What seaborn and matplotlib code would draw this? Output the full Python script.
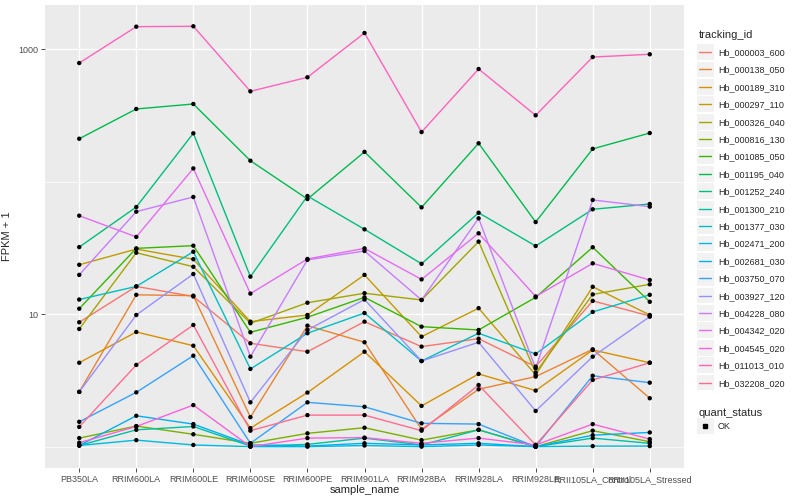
import pandas as pd
import seaborn as sns
import matplotlib.pyplot as plt
from matplotlib.lines import Line2D
from matplotlib.patches import Rectangle
from matplotlib.legend_handler import HandlerLine2D
from matplotlib.ticker import FixedLocator, NullFormatter

samples = ['PB350LA', 'RRIM600LA', 'RRIM600LE', 'RRIM600SE', 'RRIM600PE', 'RRIM901LA',
           'RRIM928BA', 'RRIM928LA', 'RRIM928LE', 'RRII105LA_Control', 'RRII105LA_Stressed']

genes = ['Hb_000003_600', 'Hb_000138_050', 'Hb_000189_310', 'Hb_000297_110', 'Hb_000326_040',
         'Hb_000816_130', 'Hb_001085_050', 'Hb_001195_040', 'Hb_001252_240', 'Hb_001300_210',
         'Hb_001377_030', 'Hb_002471_200', 'Hb_002681_030', 'Hb_003750_070', 'Hb_003927_120',
         'Hb_004228_080', 'Hb_004342_020', 'Hb_004545_020', 'Hb_011013_010', 'Hb_032208_020']

# FPKM per sample
hb_000003_600 = [7.69, 15.2, 12.6, 5.03, 4.21, 7.78, 4.69, 5.53, 3.02, 11.6, 8.69]
hb_000138_050 = [1.59, 13.0, 12.8, 0.67, 7.19, 5.14, 0.35, 1.71, 2.38, 4.43, 1.32]
hb_000189_310 = [3.30, 6.34, 4.78, 0.38, 1.56, 4.21, 1.03, 2.54, 1.65, 4.37, 3.30]
hb_000297_110 = [22.6, 30.0, 25.0, 7.78, 8.86, 18.8, 5.76, 10.1, 2.48, 15.1, 8.86]
hb_000326_040 = [6.73, 28.1, 21.8, 7.54, 11.2, 13.4, 11.8, 34.3, 2.62, 13.1, 15.8]
hb_000816_130 = [0.16, 0.43, 0.24, 0.06, 0.26, 0.39, 0.12, 0.34, 0.0, 0.32, 0.09]
hb_001085_050 = [10.0, 30.4, 31.9, 6.30, 8.48, 12.4, 7.05, 6.60, 12.4, 31.0, 11.4]
hb_001195_040 = [210, 353, 385, 143, 73, 167, 63, 194, 48.6, 176, 232]
hb_001252_240 = [31.1, 63.4, 231, 18.2, 77, 42.7, 23.0, 57.3, 31.7, 60.9, 66.9]
hb_001300_210 = [0.02, 0.34, 0.42, 0.01, 0.04, 0.16, 0.03, 0.34, 0.0, 0.16, 0.06]
hb_001377_030 = [11.9, 15.2, 28.6, 2.86, 6.18, 9.2, 3.43, 6.18, 4.01, 9.4, 13.0]
hb_002471_200 = [0.02, 0.12, 0.03, 0.0, 0.0, 0.02, 0.0, 0.03, 0.0, 0.01, 0.01]
hb_002681_030 = [0.02, 0.71, 0.48, 0.03, 0.01, 0.06, 0.03, 0.06, 0.0, 0.22, 0.28]
hb_003750_070 = [0.54, 1.57, 3.86, 0.06, 1.16, 1.00, 0.50, 0.48, 0.0, 2.43, 2.04]
hb_003927_120 = [1.59, 8.86, 19.1, 1.16, 6.60, 11.9, 3.43, 5.14, 0.86, 3.78, 8.58]
hb_004228_080 = [18.8, 58.4, 75.7, 3.78, 24.7, 29.0, 11.8, 51.9, 2.91, 71.8, 63.8]
hb_004342_020 = [54.4, 37.3, 125, 13.3, 25.1, 30.4, 17.3, 39.8, 12.6, 23.2, 17.1]
hb_004545_020 = [0.07, 0.42, 1.06, 0.0, 0.16, 0.17, 0.06, 0.16, 0.03, 0.48, 0.14]
hb_011013_010 = [786, 1479, 1489, 480, 613, 1324, 236, 708, 316, 872, 915]
hb_032208_020 = [0.41, 3.14, 7.29, 0.32, 0.73, 0.73, 0.32, 1.92, 0.03, 2.19, 3.30]

series = [hb_000003_600, hb_000138_050, hb_000189_310, hb_000297_110, hb_000326_040,
          hb_000816_130, hb_001085_050, hb_001195_040, hb_001252_240, hb_001300_210,
          hb_001377_030, hb_002471_200, hb_002681_030, hb_003750_070, hb_003927_120,
          hb_004228_080, hb_004342_020, hb_004545_020, hb_011013_010, hb_032208_020]

# ggplot2 default hue palette for 20 levels
colors = ['#F8766D', '#EA8331', '#D89000', '#C09B00', '#A3A500', '#7CAE00', '#39B600',
          '#00BB4E', '#00BF7D', '#00C1A3', '#00BFC4', '#00BAE0', '#00B0F6', '#35A2FF',
          '#9590FF', '#C77CFF', '#E76BF3', '#FA62DB', '#FF62BC', '#FF6C91']


class KeyHandler(HandlerLine2D):
    """Legend key with a grey box behind it, like ggplot."""
    def create_artists(self, legend, orig_handle, xdescent, ydescent, width, height,
                       fontsize, trans):
        arts = super().create_artists(legend, orig_handle, xdescent, ydescent, width,
                                      height, fontsize, trans)
        pad_x, pad_y = 1.5, 3.4
        bg = Rectangle((-xdescent - pad_x, -ydescent - pad_y), width + 2 * pad_x,
                       height + 2 * pad_y, facecolor='#F2F2F2', edgecolor='none',
                       transform=trans)
        return [bg] + list(arts)


rows = []
for g, vals in zip(genes, series):
    for s, v in zip(samples, vals):
        rows.append({'tracking_id': g, 'sample_name': s, 'fpkm1': v + 1})
df = pd.DataFrame(rows)

sns.set_theme(style='darkgrid')
plt.rcParams['font.family'] = ['Liberation Sans', 'DejaVu Sans']

fig = plt.figure(figsize=(8, 5), dpi=100)
ax = fig.add_axes([45 / 800, 32 / 500, 639 / 800, 463 / 500])
ax.set_facecolor('#EBEBEB')

sns.lineplot(data=df, x='sample_name', y='fpkm1', hue='tracking_id', hue_order=genes,
             palette=colors, linewidth=1, errorbar=None, sort=False, ax=ax)
sns.scatterplot(data=df, x='sample_name', y='fpkm1', color='black', s=10,
                edgecolor='none', legend=False, zorder=3, ax=ax)

ax.set_yscale('log')
ax.set_ylim(0.69, 2157)
ax.set_xlim(-0.6, len(samples) - 0.4)
ax.yaxis.set_major_locator(FixedLocator([10, 1000]))
ax.set_yticklabels(['10', '1000'])
ax.yaxis.set_minor_locator(FixedLocator([1, 100]))
ax.yaxis.set_minor_formatter(NullFormatter())

ax.grid(which='major', color='white', linewidth=1.0)
ax.grid(which='minor', axis='y', color='white', linewidth=0.5)
for sp in ax.spines.values():
    sp.set_visible(False)
ax.tick_params(axis='both', which='major', length=3, width=0.6, color='#333333',
               labelsize=6.5, labelcolor='#4D4D4D', pad=2, bottom=True, left=True)
ax.tick_params(axis='y', which='minor', length=0)

ax.set_xlabel('sample_name', fontsize=8, labelpad=1)
ax.set_ylabel('FPKM + 1', fontsize=8, labelpad=4)

handles, labels = ax.get_legend_handles_labels()
ax.get_legend().remove()
hmap = {Line2D: KeyHandler()}
leg1 = fig.legend(handles, labels, title='tracking_id', loc='upper left',
                  bbox_to_anchor=(697 / 800, 1 - 28 / 500), frameon=False, fontsize=6.5,
                  title_fontsize=8, handlelength=1.4, handletextpad=0.7,
                  labelspacing=0.93, alignment='left', borderaxespad=0, borderpad=0.2,
                  handler_map=hmap)
ok = Line2D([], [], marker='s', color='black', linestyle='', markersize=2.5)
leg2 = fig.legend([ok], ['OK'], title='quant_status', loc='upper left',
                  bbox_to_anchor=(697 / 800, 1 - 406 / 500), frameon=False, fontsize=6.5,
                  title_fontsize=8, handlelength=1.4, handletextpad=0.7,
                  alignment='left', borderaxespad=0, borderpad=0.2, handler_map=hmap)

fig.savefig('out.png', dpi=100)
